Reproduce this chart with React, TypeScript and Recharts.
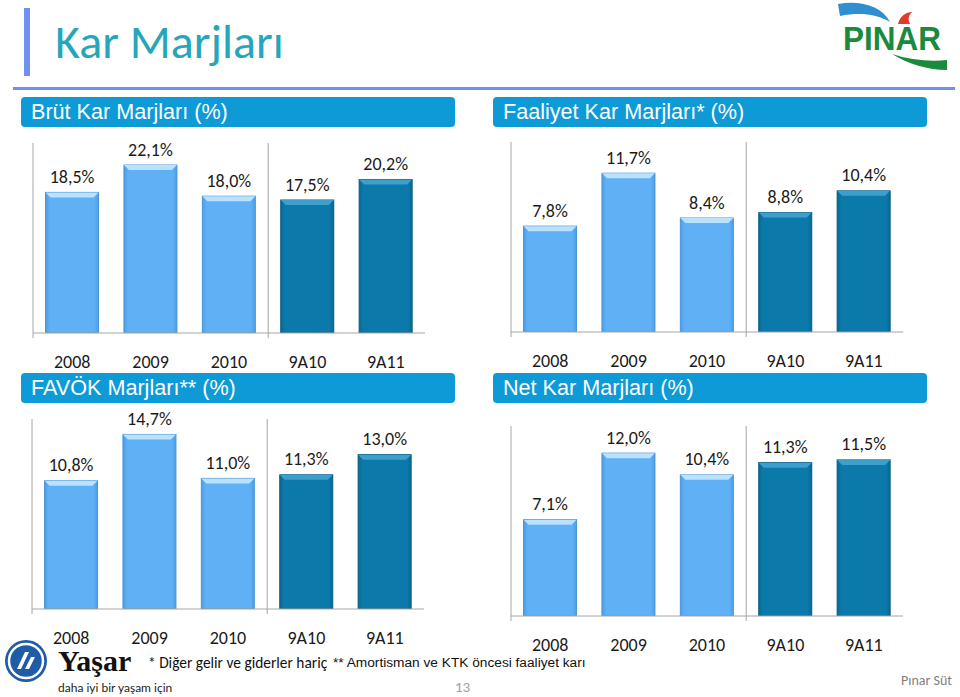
import React from "react";
import { Bar, BarChart, Cell, LabelList, ReferenceLine, XAxis, YAxis } from "recharts";

const periods = ["2008", "2009", "2010", "9A10", "9A11"];
const brutMargin = [18.5, 22.1, 18.0, 17.5, 20.2];
const faaliyetMargin = [7.8, 11.7, 8.4, 8.8, 10.4];
const favokMargin = [10.8, 14.7, 11.0, 11.3, 13.0];
const netMargin = [7.1, 12.0, 10.4, 11.3, 11.5];

const LIGHT = "#60b0f6";
const DARK = "#0b7aab";
const AXIS = "#a6a6a6";
const HEADER = "#0d9ad6";
const ACCENT = "#6f8ff2";
const LABEL_FONT = "Carlito, Calibri, Lato, sans-serif";
const ARIAL = "'Liberation Sans', Arial, sans-serif";

const PLOT_W = 392;
const PLOT_H = 190;

function BevelBar(props: any) {
  const { x, y, width, height, fill } = props;
  if (!height || height <= 0) return null;
  const dark = fill === DARK;
  const b = 5;
  return (
    <g>
      <rect
        x={x}
        y={y}
        width={width}
        height={height}
        fill={dark ? "url(#darkBody)" : "url(#lightBody)"}
        stroke={dark ? "#075a80" : "#4a94d4"}
        strokeWidth={1}
      />
      <path
        d={`M${x},${y} H${x + width} L${x + width - b},${y + b} H${x + b} Z`}
        fill={dark ? "#3d9fcc" : "#b8e2fd"}
      />
    </g>
  );
}

function ValueLabel(props: any) {
  const vb = props.viewBox && props.viewBox.width !== undefined ? props.viewBox : props;
  const { x, y, width } = vb;
  const text = `${Number(props.value).toFixed(1).replace(".", ",")}%`;
  return (
    <text
      x={x + width / 2}
      y={y - 15.5}
      textAnchor="middle"
      dominantBaseline="central"
      fill="#1a1a1a"
      fontFamily={LABEL_FONT}
      fontSize={18}
    >
      {text}
    </text>
  );
}

function PeriodTick(props: any) {
  const { x, y, payload } = props;
  return (
    <text
      x={x}
      y={y + 28.5}
      textAnchor="middle"
      dominantBaseline="central"
      fill="#1a1a1a"
      fontFamily={LABEL_FONT}
      fontSize={18}
    >
      {payload.value}
    </text>
  );
}

// vertical rule that runs a few pixels past the category axis, like the slide
function Divider(props: any) {
  const top = Math.min(props.y1, props.y2);
  const bottom = Math.max(props.y1, props.y2);
  return <line x1={props.x1} x2={props.x2} y1={top} y2={bottom + 5} stroke={AXIS} strokeWidth={1} />;
}

function MarginChart({ values, max, left, top }: { values: number[]; max: number; left: number; top: number }) {
  const data = periods.map((period, i) => ({ period, value: values[i] }));
  return (
    <div style={{ position: "absolute", left: left - 12, top: top - 30 }}>
      <BarChart
        width={PLOT_W + 40}
        height={PLOT_H + 72}
        data={data}
        margin={{ top: 30, left: 12, right: 28, bottom: 0 }}
        barCategoryGap="16%"
      >
        <XAxis
          dataKey="period"
          height={42}
          interval={0}
          axisLine={{ stroke: AXIS }}
          tickLine={false}
          tickSize={0}
          tickMargin={0}
          tick={<PeriodTick />}
        />
        <YAxis domain={[0, max]} allowDataOverflow hide />
        <ReferenceLine x={periods[0]} position="start" shape={<Divider />} />
        <ReferenceLine x={periods[2]} position="end" shape={<Divider />} />
        <Bar dataKey="value" isAnimationActive={false} shape={<BevelBar />}>
          {data.map((d, i) => (
            <Cell key={d.period} fill={i < 3 ? LIGHT : DARK} />
          ))}
          <LabelList dataKey="value" content={<ValueLabel />} />
        </Bar>
      </BarChart>
    </div>
  );
}

function PanelHeader({ title, left, top }: { title: string; left: number; top: number }) {
  return (
    <div
      style={{
        position: "absolute",
        left,
        top,
        width: 434,
        height: 30,
        background: HEADER,
        borderRadius: 4,
        color: "#fff",
        fontFamily: ARIAL,
        fontSize: 21.6,
        lineHeight: "30px",
        paddingLeft: 10,
        boxSizing: "border-box",
        whiteSpace: "nowrap",
      }}
    >
      {title}
    </div>
  );
}

function PinarLogo() {
  return (
    <svg style={{ position: "absolute", left: 830, top: 0 }} width={125} height={80}>
      <path d="M8,4 C30,0 52,6 60,22 C46,14 30,12 10,16 Z" fill="#2f8fd0" />
      <path d="M68,24 C70,16 76,12 82,12 C78,16 78,20 80,24 Z" fill="#e03a2e" />
      <text
        x={13}
        y={50}
        fontFamily={ARIAL}
        fontWeight="bold"
        fontSize={33}
        fill="#1c8a3c"
        textLength={98}
        lengthAdjust="spacingAndGlyphs"
      >
        PINAR
      </text>
      <path d="M62,54 C80,60 100,62 117,60 L117,70 C98,70 78,64 62,54 Z" fill="#1c8a3c" />
    </svg>
  );
}

function YasarLogo() {
  return (
    <>
      <svg style={{ position: "absolute", left: 3, top: 638 }} width={46} height={46}>
        <circle cx={23} cy={23} r={21} fill="#1f5ca8" />
        <circle cx={23} cy={23} r={17} fill="none" stroke="#fff" strokeWidth={2.5} />
        <path d="M14,31 L22,14 L26,14 L18,31 Z" fill="#fff" />
        <path d="M22,31 L28,19 L32,19 L26,31 Z" fill="#fff" />
      </svg>
      <div
        style={{
          position: "absolute",
          left: 58,
          top: 649,
          fontFamily: "'Liberation Serif', 'Times New Roman', serif",
          fontWeight: "bold",
          fontSize: 30,
          lineHeight: "24px",
          color: "#111",
        }}
      >
        Yaşar
      </div>
      <div
        style={{
          position: "absolute",
          left: 58,
          top: 681,
          fontFamily: "Lato, sans-serif",
          fontSize: 12,
          lineHeight: "14px",
          color: "#222",
        }}
      >
        daha iyi bir yaşam için
      </div>
    </>
  );
}

export default function App() {
  return (
    <div style={{ position: "fixed", left: 0, top: 0, width: 960, height: 697, background: "#fff", overflow: "hidden" }}>
      <svg width={0} height={0} style={{ position: "absolute" }}>
        <defs>
          <linearGradient id="lightBody" x1="0" x2="1" y1="0" y2="0">
            <stop offset="0" stopColor="#4a9fe8" />
            <stop offset="0.08" stopColor={LIGHT} />
            <stop offset="0.92" stopColor={LIGHT} />
            <stop offset="1" stopColor="#4a9fe8" />
          </linearGradient>
          <linearGradient id="darkBody" x1="0" x2="1" y1="0" y2="0">
            <stop offset="0" stopColor="#066a96" />
            <stop offset="0.08" stopColor={DARK} />
            <stop offset="0.92" stopColor={DARK} />
            <stop offset="1" stopColor="#066a96" />
          </linearGradient>
        </defs>
      </svg>

      <div style={{ position: "absolute", left: 24, top: 8, width: 6, height: 68, background: ACCENT }} />
      <div
        style={{
          position: "absolute",
          left: 55,
          top: 18,
          fontFamily: LABEL_FONT,
          fontSize: 48,
          lineHeight: "48px",
          color: "#26a6bb",
          whiteSpace: "nowrap",
        }}
      >
        Kar Marjları
      </div>
      <PinarLogo />
      <div style={{ position: "absolute", left: 13, top: 87, width: 942, height: 3, background: ACCENT }} />

      <PanelHeader title="Brüt Kar Marjları (%)" left={21} top={97} />
      <PanelHeader title="Faaliyet Kar Marjları* (%)" left={493} top={97} />
      <PanelHeader title="FAVÖK Marjları** (%)" left={21} top={373} />
      <PanelHeader title="Net Kar Marjları (%)" left={493} top={373} />

      <MarginChart values={brutMargin} max={25} left={33} top={143} />
      <MarginChart values={faaliyetMargin} max={14} left={511} top={142} />
      <MarginChart values={favokMargin} max={16} left={32} top={419} />
      <MarginChart values={netMargin} max={14} left={511} top={426} />

      <YasarLogo />
      <div
        style={{
          position: "absolute",
          left: 148,
          top: 654,
          fontFamily: LABEL_FONT,
          fontSize: 15.4,
          lineHeight: "18px",
          color: "#111",
          whiteSpace: "nowrap",
        }}
      >
        * Diğer gelir ve giderler hariç
      </div>
      <div
        style={{
          position: "absolute",
          left: 333,
          top: 655,
          fontFamily: ARIAL,
          fontSize: 13.7,
          lineHeight: "16px",
          color: "#111",
          whiteSpace: "nowrap",
        }}
      >
        ** Amortisman ve KTK öncesi faaliyet karı
      </div>
      <div
        style={{
          position: "absolute",
          left: 455,
          top: 678,
          fontFamily: LABEL_FONT,
          fontSize: 15,
          lineHeight: "18px",
          color: "#a0a0a0",
        }}
      >
        13
      </div>
      <div
        style={{
          position: "absolute",
          left: 901,
          top: 673,
          fontFamily: LABEL_FONT,
          fontSize: 14,
          lineHeight: "16px",
          color: "#7f7f7f",
          whiteSpace: "nowrap",
        }}
      >
        Pınar Süt
      </div>
    </div>
  );
}
